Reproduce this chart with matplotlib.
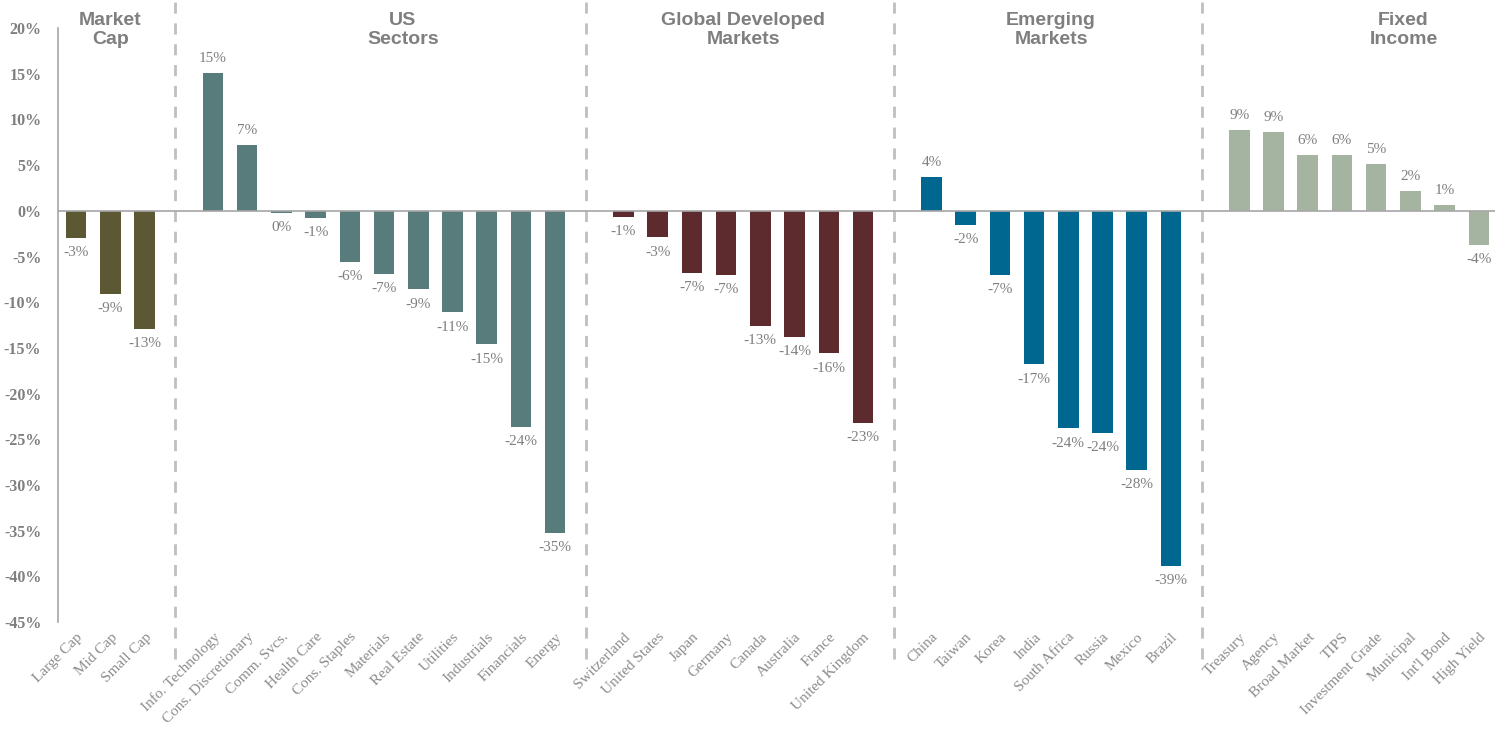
import matplotlib.pyplot as plt

# -----------------------------
# Data (total return, %)
# -----------------------------
GROUP_TITLES = ["Market\nCap", "US\nSectors", "Global Developed\nMarkets", "Emerging\nMarkets", "Fixed\nIncome"]
GROUP_COLORS = ["#5b5833", "#587c7c", "#5d2a2e", "#006890", "#a5b3a1"]

market_cap = ["Large Cap", "Mid Cap", "Small Cap"]
market_cap_ret = [-2.95, -9.1, -12.9]

us_sectors = ["Info. Technology", "Cons. Discretionary", "Comm. Svcs.", "Health Care", "Cons. Staples",
              "Materials", "Real Estate", "Utilities", "Industrials", "Financials", "Energy"]
us_sectors_ret = [15.1, 7.2, -0.2, -0.8, -5.6, -6.9, -8.6, -11.1, -14.6, -23.6, -35.2]

global_dev = ["Switzerland", "United States", "Japan", "Germany", "Canada", "Australia", "France", "United Kingdom"]
global_dev_ret = [-0.7, -2.9, -6.8, -7.0, -12.6, -13.8, -15.6, -23.2]

emerging = ["China", "Taiwan", "Korea", "India", "South Africa", "Russia", "Mexico", "Brazil"]
emerging_ret = [3.7, -1.5, -7.0, -16.8, -23.8, -24.3, -28.3, -38.8]

fixed_income = ["Treasury", "Agency", "Broad Market", "TIPS", "Investment Grade", "Municipal", "Int'l Bond", "High Yield"]
fixed_income_ret = [8.8, 8.6, 6.1, 6.1, 5.1, 2.2, 0.6, -3.7]

groups = [
    (market_cap, market_cap_ret),
    (us_sectors, us_sectors_ret),
    (global_dev, global_dev_ret),
    (emerging, emerging_ret),
    (fixed_income, fixed_income_ret),
]

# title x offsets (in slots) relative to the group centre
TITLE_SHIFT = [0.0, 0.55, 0.0, 0.0, 1.3]

GRAY = "#7f7f7f"
SERIF = "Liberation Serif"
SANS = "Liberation Sans"

fig = plt.figure(figsize=(14.99, 7.32), dpi=100)
ax = fig.add_axes([0.0387, 0.150, 0.9583, 0.8117])

pos = 0
ticks, tick_labels, separators = [], [], []
for gi, (names, vals) in enumerate(groups):
    xs = list(range(pos, pos + len(names)))
    ax.bar(xs, vals, width=0.6, color=GROUP_COLORS[gi], zorder=2)
    for x, v in zip(xs, vals):
        label = f"{int(round(v))}%"
        if v >= 0:
            ax.text(x, v + 0.9, label, ha="center", va="bottom", fontsize=11,
                    color=GRAY, family=SERIF)
        else:
            ax.text(x, v - 0.9, label, ha="center", va="top", fontsize=11,
                    color=GRAY, family=SERIF)
    centre = (xs[0] + xs[-1]) / 2 + TITLE_SHIFT[gi]
    ax.text(centre, 19.8, GROUP_TITLES[gi], ha="center", va="center", fontsize=14,
            fontweight="bold", color=GRAY, family=SANS, linespacing=1.12)
    ticks += xs
    tick_labels += names
    pos += len(names)
    if gi < len(groups) - 1:
        separators.append(pos)
        pos += 1

for s in separators:
    ax.plot([s - 0.1, s - 0.1], [-49, 22.8], color="#bfbfbf", lw=2, ls=(0, (4, 3.5)),
            clip_on=False, zorder=1)

ax.axhline(0, color="#a6a6a6", lw=1.2, zorder=3)

ax.set_xlim(-0.53, 41.46)
ax.set_ylim(-45, 20)
ax.set_yticks(range(-45, 21, 5))
ax.set_yticklabels([f"{t}%" for t in range(-45, 21, 5)], family=SERIF, fontweight="bold",
                   fontsize=11.5, color=GRAY)
ax.set_xticks(ticks)
ax.set_xticklabels(tick_labels, rotation=45, ha="right", rotation_mode="anchor",
                   family=SERIF, fontsize=11, color="#8c8c8c")
ax.tick_params(axis="both", length=0)
ax.tick_params(axis="y", pad=12)
ax.tick_params(axis="x", pad=6)

for side in ["top", "right", "bottom"]:
    ax.spines[side].set_visible(False)
ax.spines["left"].set_color("#a6a6a6")
ax.spines["left"].set_linewidth(1.2)

fig.savefig("out.png", dpi=100)
